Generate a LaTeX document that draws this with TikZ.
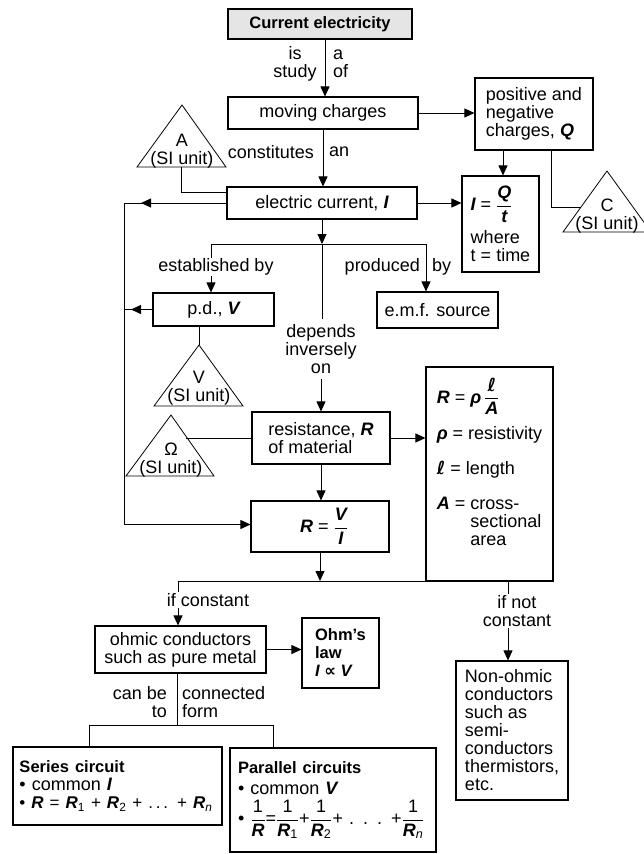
\documentclass[tikz,border=0pt]{standalone}
\usepackage{fontspec}
\usepackage{amsmath}
\setmainfont{Liberation Sans}
\newfontfamily\dvs{DejaVu Sans}
\usetikzlibrary{arrows.meta}
\newcommand\bi[1]{{\bfseries\itshape #1}}
\newcommand\fsN{\fontsize{18}{18}\selectfont}
\newcommand\fsB{\fontsize{16.5}{18}\selectfont\bfseries}
\newcommand\fr[2]{$\dfrac{\hbox{#1}}{\hbox{#2}}$}
\newcommand\lsym{{\dvs\bfseries\itshape ℓ}}
\begin{document}
\begin{tikzpicture}[x=1pt,y=-1pt,
  box/.style={draw,line width=1.1pt,inner sep=0pt,font=\fsN},
  lab/.style={inner sep=1pt,font=\fsN},
  arr/.style={line width=0.8pt,-{Triangle[length=10pt,width=9pt]}},
  ln/.style={line width=0.8pt},
  tri/.style={line width=0.8pt,line join=miter}]
\useasboundingbox (0,0) rectangle (644,854);

% title and moving charges
\node[box,fill=gray!20,minimum width=184,minimum height=30,font=\fsB] (title) at (320,24) {Current electricity};
\node[box,minimum width=190,minimum height=32] (mc) at (323,113) {moving charges};
\path ([xshift=5pt]title.south) coordinate (t1);
\draw[arr] (t1) -- (t1 |- mc.north);
\node[lab,align=center] (l1) at (295,64) {is\\study};
\node[lab,align=left,anchor=west] (l2) at (332,64) {a\\of};

% positive and negative charges
\node[box,align=left,minimum width=118,minimum height=72] (pn) at (534,114) {positive and\\negative\\charges, \bi{Q}};
\draw[arr] (mc.east) -- (mc.east -| pn.west);

% electric current
\node[box,minimum width=190,minimum height=32] (ec) at (322,203) {electric current, \bi{I}};
\path (mc.south) coordinate (m1);
\draw[arr] (m1) -- (m1 |- ec.north);
\node[lab,anchor=east] (l3) at (315,152) {constitutes};
\node[lab,anchor=west] (l4) at (328,152) {an};

% A triangle
\coordinate (Aa) at (182,105);
\coordinate (Abl) at (137,167);
\coordinate (Abr) at (226,167);
\draw[tri] (Aa) -- (Abl) -- (Abr) -- cycle;
\node[lab,align=center] (At) at (182,151) {A\\(SI unit)};
\coordinate (Ab) at (181,167);
\draw[ln] (Ab) |- ([yshift=11pt]ec.west);

% I = Q/t
\node[box,align=left,minimum width=77,minimum height=96] (eqI) at (500.5,224) {\bi{I} = \fr{\bi{Q}}{\bi{t}}\\[7pt]where\\t = time};
\path ([xshift=-31pt]pn.south) coordinate (p1);
\draw[arr] (p1) -- (p1 |- eqI.north);
\draw[arr] (ec.east) -- (ec.east -| eqI.west);

% C triangle
\coordinate (Ca) at (607,171);
\coordinate (Cbl) at (563,232);
\coordinate (Cbr) at (651,232);
\draw[tri] (Ca) -- (Cbl) -- (Cbr) -- cycle;
\node[lab,align=center] (Ct) at (607,216) {C\\(SI unit)};
\path ([xshift=17pt]pn.south) coordinate (p2);
\coordinate (Cs) at (581,207);
\draw[ln] (p2) |- (Cs);

% p.d. and e.m.f.
\node[box,minimum width=121,minimum height=33] (pd) at (213.5,309.5) {p.d., \bi{V}};
\node[box,minimum width=121,minimum height=36] (emf) at (437.5,310) {e.m.f. source};
\coordinate (br1) at (322,244);
\draw[arr] (ec.south) -- (br1);
\path ([xshift=-2.5pt]pd.north) coordinate (q1);
\path ([xshift=-11.5pt]emf.north) coordinate (q2);
\draw[ln] (q1 |- br1) -- (q2 |- br1);
\draw[arr] (q1 |- br1) -- (q1);
\draw[arr] (q2 |- br1) -- (q2);
\node[lab,fill=white] (l5) at (216,267) {established by};
\node[lab,anchor=east] (l6) at (421,267) {produced};
\node[lab,anchor=west] (l7) at (431,267) {by};

% depends inversely on, resistance
\node[lab,align=center,inner sep=5pt] (dep) at (321,349) {depends\\inversely\\on};
\draw[ln] (br1) -- (br1 |- dep.north);
\node[box,align=left,minimum width=138,minimum height=52] (res) at (321,438) {resistance, \bi{R}\\of material};
\draw[arr] (dep.south) -- (dep.south |- res.north);

% V triangle
\coordinate (Va) at (199,345);
\coordinate (Vbl) at (154,406);
\coordinate (Vbr) at (243,406);
\draw[tri] (Va) -- (Vbl) -- (Vbr) -- cycle;
\node[lab,align=center] (Vt) at (199,388) {V\\(SI unit)};
\draw[ln] (Va |- pd.south) -- (Va);

% Omega triangle
\coordinate (Oa) at (171,415);
\coordinate (Obl) at (126,476);
\coordinate (Obr) at (214,476);
\draw[tri] (Oa) -- (Obl) -- (Obr) -- cycle;
\node[lab,align=center] (Ot) at (171,460) {Ω\\(SI unit)};
\coordinate (Os) at (186,438);
\draw[ln] (Os) -- (res.west);

% formula box
\node[box,align=left,minimum width=127,minimum height=214] (fm) at (489.5,474) {\bi{R} = \bi{ρ}\,\fr{\lsym}{\bi{A}}\\[11pt]\bi{ρ} = resistivity\\[17pt]\lsym{} = length\\[17pt]\bi{A} = cross-\\\hphantom{\bi{A} = }sectional\\\hphantom{\bi{A} = }area\\[6pt]\mbox{}};
\draw[arr] (res.east) -- (res.east -| fm.west);

% R = V/I
\node[box,minimum width=138,minimum height=51] (rv) at (320,526.5) {\hspace{8pt}\bi{R} = \fr{\bi{V}}{\bi{I}}};
\draw[arr] (res.south) -- (res.south |- rv.north);

% left loop
\coordinate (lx) at (124,0);
\coordinate (tx1) at (141,0);
\coordinate (tx2) at (131,0);
\draw[arr] (ec.west) -- (ec.west -| lx) |- ([yshift=2pt]rv.west);
\draw[arr] (ec.west) -- (ec.west -| tx1);
\draw[ln] (pd.west) -- (pd.west -| lx);
\draw[arr] (pd.west) -- (pd.west -| tx2);

% constant / not constant
\coordinate (br2) at (320,581);
\draw[arr] (rv.south) -- (br2);
\node[box,align=center,minimum width=171,minimum height=47] (ohm) at (180.5,649.5) {ohmic conductors\\such as pure metal};
\node[box,align=left,minimum width=112,minimum height=139] (non) at (512,730.5) {Non-ohmic\\conductors\\such as\\semi-\\conductors\\thermistors,\\etc.};
\path ([xshift=-2.5pt]ohm.north) coordinate (o1);
\path ([xshift=-4pt]non.north) coordinate (n1);
\draw[ln] (o1 |- br2) -- (n1 |- br2);
\draw[arr] (o1 |- br2) -- (o1);
\draw[arr] (n1 |- br2) -- (n1);
\node[lab,fill=white] (l8) at (208,600) {if constant};
\node[lab,fill=white,align=center] (l9) at (517,611) {if not\\constant};

% Ohm's law
\node[box,align=left,minimum width=77,minimum height=70,font=\fsB] (law) at (340.5,653) {Ohm's\\law\\\bi{I} {\dvs ∝} \bi{V}};
\draw[arr] (ohm.east) -- (ohm.east -| law.west);

% series / parallel
\node[box,align=left,text width=196,minimum width=209,minimum height=78] (ser) at (117.5,786) {{\fsB Series circuit}\\• common \bi{I}\\\mbox{\fontsize{17}{18}\selectfont • \bi{R} = \bi{R}\textsubscript{1} + \bi{R}\textsubscript{2} + .\,.\,. + \bi{R}\textsubscript{\itshape n}}};
\node[box,align=left,text width=190,minimum width=206,minimum height=104] (par) at (333,800) {{\fsB Parallel circuits}\\[3pt]• common \bi{V}\\[5pt]• \fr{1}{\bi{R}}=\fr{1}{\bi{R}\textsubscript{1}}+\fr{1}{\bi{R}\textsubscript{2}}+ . . . +\fr{1}{\bi{R}\textsubscript{\itshape n}}};
\path ([xshift=-3.5pt]ohm.south) coordinate (o2);
\coordinate (br3) at (177,725);
\draw[ln] (o2) -- (br3);
\node[lab,anchor=east,align=right] (l10) at (168,702) {can be\\to};
\node[lab,anchor=west,align=left] (l11) at (181,702) {connected\\form};
\coordinate (sL) at (89,725);
\coordinate (sR) at (273,725);
\draw[ln] (sL) -- (sR);
\draw[ln] (sL) -- (sL |- ser.north);
\draw[ln] (sR) -- (sR |- par.north);
\end{tikzpicture}
\end{document}
